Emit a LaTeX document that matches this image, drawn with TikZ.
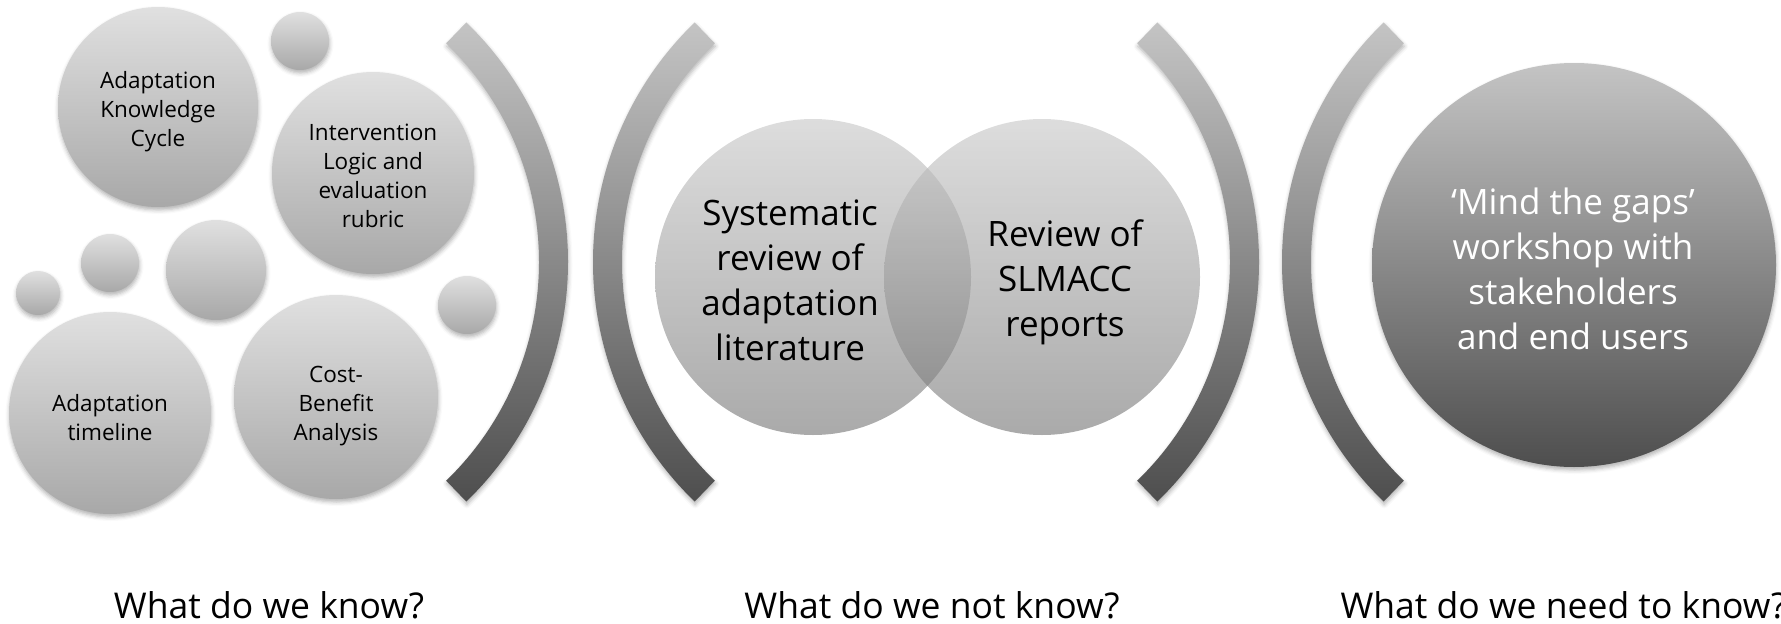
\documentclass[tikz,border=0pt]{standalone}
\usepackage{fontspec}
\setmainfont{Open Sans}
\usetikzlibrary{shadows.blur}
\definecolor{bubtop}{RGB}{224,224,224}
\definecolor{bubbot}{RGB}{168,168,168}
\definecolor{venntop}{RGB}{198,198,198}
\definecolor{vennbot}{RGB}{113,113,113}
\definecolor{darktop}{RGB}{196,196,196}
\definecolor{darkbot}{RGB}{78,78,78}
\begin{document}
\begin{tikzpicture}[x=1pt,y=1pt,
  softshadow/.style={blur shadow={shadow xshift=0.5pt, shadow yshift=-3pt, shadow blur radius=4pt, shadow opacity=30}},
  bubble/.style={circle, inner sep=0pt, draw=none, top color=bubtop, bottom color=bubbot, softshadow},
  venn/.style={circle, inner sep=0pt, draw=none, top color=venntop, bottom color=vennbot, fill opacity=0.6},
  bigdark/.style={circle, inner sep=0pt, draw=none, top color=darktop, bottom color=darkbot, softshadow},
  bracket/.style={top color=darktop, bottom color=darkbot, draw=none, softshadow},
  smalltext/.style={align=center, font=\fontsize{22.5}{29}\selectfont, text=black},
  bigtext/.style={align=center, font=\fontsize{35}{45}\selectfont},
  question/.style={anchor=base, font=\fontsize{35.5}{42}\selectfont, text=black}]
\useasboundingbox (0,0) rectangle (1781,-624);

% --- left group: what we know ---
\node[bubble, minimum size=200] (akc) at (158,-107) {};
\node[bubble, minimum size=58]  (dotA) at (300,-41) {};
\node[bubble, minimum size=202] (ilr) at (373,-173) {};
\node[bubble, minimum size=44]  (dotB) at (38,-293) {};
\node[bubble, minimum size=58]  (dotC) at (110,-263) {};
\node[bubble, minimum size=100] (dotD) at (216,-270) {};
\node[bubble, minimum size=58]  (dotE) at (467,-305) {};
\node[bubble, minimum size=202] (atl) at (110,-413) {};
\node[bubble, minimum size=204] (cba) at (336,-397) {};

\node[smalltext] (akct) at (158,-111.5) {Adaptation\\Knowledge\\Cycle};
\node[smalltext] (ilrt) at (373,-176) {Intervention\\Logic and\\evaluation\\rubric};
\node[smalltext] (atlt) at (110,-418) {Adaptation\\timeline};
\node[smalltext] (cbat) at (336,-406) {Cost-\\Benefit\\Analysis};

% --- brackets ---
\shade[bracket, shift={(235,-262)}] (46:333) arc[start angle=46, end angle=-46, radius=333]
  -- (-46:304) arc[start angle=-46, end angle=46, radius=304] -- cycle;
\shade[bracket, shift={(926,-262)}] (134:333) arc[start angle=134, end angle=226, radius=333]
  -- (226:304) arc[start angle=226, end angle=134, radius=304] -- cycle;
\shade[bracket, shift={(926,-262)}] (46:333) arc[start angle=46, end angle=-46, radius=333]
  -- (-46:304) arc[start angle=-46, end angle=46, radius=304] -- cycle;
\shade[bracket, shift={(1615,-262)}] (134:333) arc[start angle=134, end angle=226, radius=333]
  -- (226:304) arc[start angle=226, end angle=134, radius=304] -- cycle;

% --- middle group: Venn of the two reviews ---
\node[venn, minimum size=316] (sysrev) at (813,-277) {};
\node[venn, minimum size=316] (slmacc) at (1042,-277) {};
\node[bigtext, text=black] (sysrevt) at (790,-280) {Systematic\\review of\\adaptation\\literature};
\node[bigtext, text=black] (slmacct) at (1065,-282.5) {Review of\\SLMACC\\reports};

% --- right group: workshop ---
\node[bigdark, minimum size=404] (mind) at (1574,-265) {};
\node[bigtext, text=white] (mindt) at (1573,-269) {‘Mind the gaps’\\workshop with\\stakeholders\\and end users};

% --- captions ---
\node[question] (q1) at (269,-618) {What do we know?};
\node[question] (q2) at (932,-618) {What do we not know?};
\node[question, anchor=base west] (q3) at (1337,-618) {What do we need to know?};
\end{tikzpicture}
\end{document}
